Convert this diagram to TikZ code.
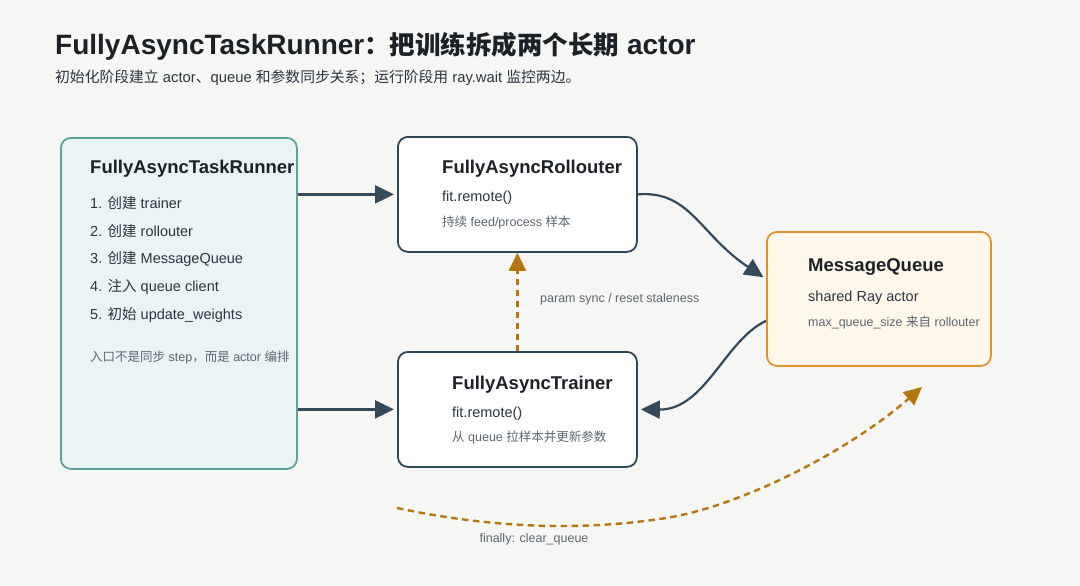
\documentclass[tikz,border=0pt]{standalone}
\usepackage{fontspec}
\setmainfont{Liberation Sans}
\newfontfamily\cjk{Noto Sans CJK SC}
\usetikzlibrary{arrows.meta}
\definecolor{bgpaper}{HTML}{F6F6F4}
\definecolor{inkdark}{HTML}{1C2127}
\definecolor{inkbody}{HTML}{2A3540}
\definecolor{inknote}{HTML}{5C6670}
\definecolor{tealline}{HTML}{5BA39A}
\definecolor{tealfill}{HTML}{EAF4F4}
\definecolor{slateline}{HTML}{2F4858}
\definecolor{amberline}{HTML}{E0922F}
\definecolor{amberfill}{HTML}{FFF7E9}
\definecolor{arrowdark}{HTML}{34495A}
\definecolor{syncline}{HTML}{B5760F}
\newcommand{\zh}[1]{{\cjk #1}}

\begin{document}
\begin{tikzpicture}[
  x=1pt, y=-1pt,
  box/.style={draw, rounded corners=10pt, line width=1.8pt, anchor=north west, inner sep=0pt},
  head/.style={anchor=base west, inner sep=0pt, font=\bfseries\fontsize{18.5}{22}\selectfont, text=inkdark},
  body/.style={anchor=base west, inner sep=0pt, font=\fontsize{14.5}{18}\selectfont, text=inkbody},
  note/.style={anchor=base west, inner sep=0pt, font=\fontsize{12.5}{15}\selectfont, text=inknote},
  flow/.style={-{Triangle[length=19pt,width=18pt]}, line width=2.2pt, draw=arrowdark, shorten >=3pt},
  sync/.style={-{Triangle[length=18pt,width=17pt]}, line width=2.4pt, draw=syncline, dash pattern=on 6.5pt off 4.5pt},
]
  \fill[bgpaper] (0,0) rectangle (1080,586);
  \useasboundingbox (0,0) rectangle (1080,586);

  \node[anchor=base west, inner sep=0pt, font=\bfseries\fontsize{28}{34}\selectfont, text=inkdark] (title) at (55,55)
    {FullyAsyncTaskRunner{\fontsize{25.5}{34}\selectfont\zh{：把训练拆成两个长期}} actor};
  \node[anchor=base west, inner sep=0pt, font=\fontsize{14.8}{18}\selectfont, text=inkbody] (subtitle) at (55,83)
    {\zh{初始化阶段建立} actor\zh{、}queue \zh{和参数同步关系；运行阶段用} ray.wait \zh{监控两边。}};

  \node[box, draw=tealline, fill=tealfill, minimum width=236pt, minimum height=331pt] (runner) at (60,137) {};
  \node[head] (runnerhead) at (90,173.5) {FullyAsyncTaskRunner};
  \node[body] (step1) at (90,208) {1. \zh{创建} trainer};
  \node[body] (step2) at (90,236) {2. \zh{创建} rollouter};
  \node[body] (step3) at (90,263) {3. \zh{创建} MessageQueue};
  \node[body] (step4) at (90,291) {4. \zh{注入} queue client};
  \node[body] (step5) at (90,319) {5. \zh{初始} update\_weights};
  \node[note] (runnernote) at (90,361.5) {\zh{入口不是同步} step\zh{，而是} actor \zh{编排}};

  \node[box, draw=slateline, fill=white, minimum width=239pt, minimum height=115pt] (roll) at (397,136) {};
  \node[head] (rollhead) at (442,173.5) {FullyAsyncRollouter};
  \node[body] (rollfit) at (442,201) {fit.remote()};
  \node[note] (rollnote) at (442,226.5) {\zh{持续} feed/process \zh{样本}};

  \node[box, draw=slateline, fill=white, minimum width=239pt, minimum height=115pt] (trainer) at (397,351) {};
  \node[head] (trainerhead) at (452,389.5) {FullyAsyncTrainer};
  \node[body] (trainerfit) at (452,417) {fit.remote()};
  \node[note] (trainernote) at (452,441.5) {\zh{从} queue \zh{拉样本并更新参数}};

  \node[box, draw=amberline, fill=amberfill, minimum width=224pt, minimum height=134pt] (mq) at (766,231) {};
  \node[head] (mqhead) at (808,271.5) {MessageQueue};
  \node[body] (mqactor) at (808,301) {shared Ray actor};
  \node[note] (mqnote) at (808,326.5) {max\_queue\_size \zh{来自} rollouter};

  \draw[flow] (roll.west -| runner.east) -- (roll.west);
  \draw[flow] (trainer.west -| runner.east) -- (trainer.west);
  \draw[flow] (roll.east) .. controls (690,190) and (700,235) .. ([yshift=20pt]mq.west);
  \draw[flow] ([yshift=-22pt]mq.west) .. controls (725,340) and (705,410) .. (trainer.east);

  \draw[sync] (trainer.north) -- (roll.south);
  \node[note] (synclabel) at (540,302.5) {param sync / reset staleness};

  \coordinate (cleanstart) at (397,508);
  \coordinate (cleanmid) at (666,518);
  \coordinate (cleanend) at (922,387);
  \draw[sync] (cleanstart) .. controls (500,530) and (590,530) .. (cleanmid)
    .. controls (742,506) and (850,450) .. (cleanend);
  \node[note, anchor=base] (cleanlabel) at (534,542.5) {finally: clear\_queue};
\end{tikzpicture}
\end{document}
